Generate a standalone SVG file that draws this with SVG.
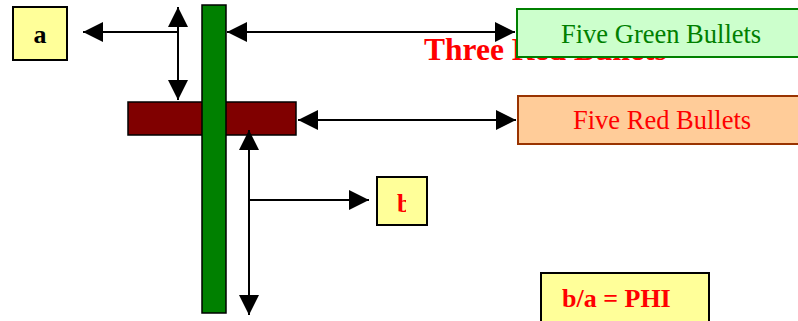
<svg xmlns="http://www.w3.org/2000/svg" width="798" height="321" viewBox="0 0 798 321">
<style>
.lbl{font-family:"Liberation Serif","Times New Roman",serif}
.b{font-weight:bold}
.ln{stroke:#000;stroke-width:2;fill:none}
</style>
<defs>
<marker id="ah" markerUnits="userSpaceOnUse" markerWidth="20" markerHeight="20" refX="20" refY="10" orient="auto-start-reverse" viewBox="0 0 20 20">
<path d="M0,0 L20,10 L0,20 z" fill="#000"/>
</marker>
<clipPath id="clipb"><rect x="378" y="178" width="28" height="46"/></clipPath>
</defs>
<rect width="798" height="321" fill="#fff"/>
<g id="redbar"><rect x="128" y="102" width="168" height="33" fill="#800000" stroke="#000" stroke-width="1.5"/></g>
<g id="greenbar"><rect x="202" y="5" width="24" height="308" fill="#008000" stroke="#000" stroke-width="1.5"/></g>
<g id="title"><text class="lbl b" x="424" y="60" font-size="31.5" fill="#ff0000">Three Red Bullets</text></g>
<g id="connectors">
<line class="ln" x1="178" y1="32" x2="83" y2="32" marker-end="url(#ah)"/>
<line class="ln" x1="178" y1="7" x2="178" y2="100" marker-start="url(#ah)" marker-end="url(#ah)"/>
<line class="ln" x1="227" y1="32" x2="515" y2="32" marker-start="url(#ah)" marker-end="url(#ah)"/>
<line class="ln" x1="298" y1="120" x2="516" y2="120" marker-start="url(#ah)" marker-end="url(#ah)"/>
<line class="ln" x1="249" y1="130" x2="249" y2="315" marker-start="url(#ah)" marker-end="url(#ah)"/>
<line class="ln" x1="249" y1="200" x2="369" y2="200" marker-end="url(#ah)"/>
</g>
<g id="node-a"><rect x="13" y="7" width="54" height="53" fill="#ffff99" stroke="#000" stroke-width="2"/><text class="lbl b" x="40" y="43" font-size="26" text-anchor="middle" fill="#000">a</text></g>
<g id="node-green"><rect x="517" y="9" width="290" height="48" fill="#ccffcc" stroke="#008000" stroke-width="2"/><text class="lbl" x="561" y="43" font-size="26.5" fill="#008000">Five Green Bullets</text></g>
<g id="node-red"><rect x="518" y="96" width="290" height="48" fill="#ffcc99" stroke="#993300" stroke-width="2"/><text class="lbl" x="573" y="129" font-size="26.5" fill="#ff0000">Five Red Bullets</text></g>
<g id="node-b"><rect x="377" y="177" width="50" height="48" fill="#ffff99" stroke="#000" stroke-width="2"/><text class="lbl b" x="397" y="212" font-size="26" fill="#ff0000" clip-path="url(#clipb)">b</text></g>
<g id="node-phi"><rect x="541" y="273" width="168" height="60" fill="#ffff99" stroke="#000" stroke-width="2"/><text class="lbl b" x="562" y="307" font-size="26" fill="#ff0000">b/a = PHI</text></g>
</svg>
